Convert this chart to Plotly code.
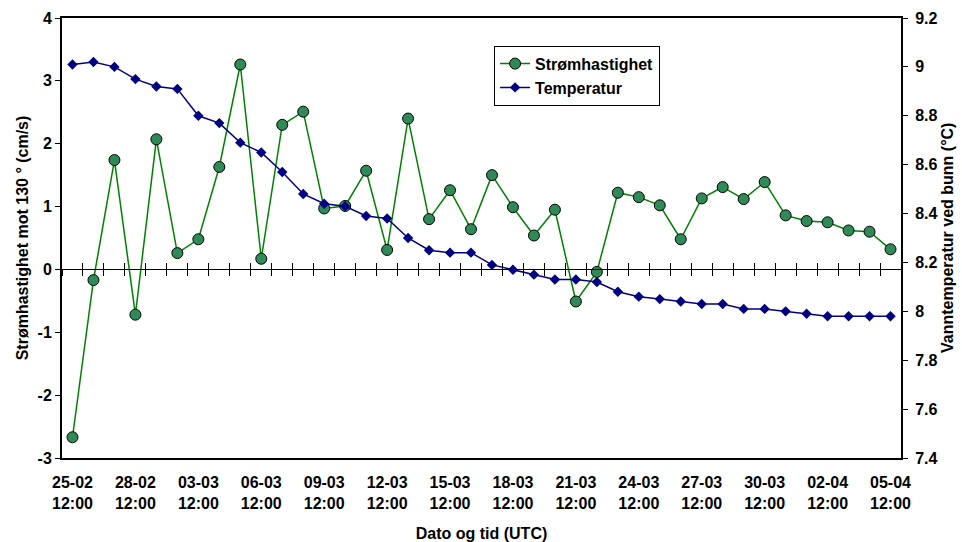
import pandas as pd
import plotly.graph_objects as go

dates = pd.date_range("2023-02-25 12:00", "2023-04-05 12:00", freq="D")

stromhastighet = [-2.67, -0.17, 1.74, -0.72, 2.07, 0.26, 0.48, 1.63, 3.26, 0.17,
                  2.30, 2.51, 0.97, 1.01, 1.57, 0.31, 2.40, 0.80, 1.26, 0.64,
                  1.50, 0.99, 0.54, 0.95, -0.51, -0.04, 1.22, 1.15, 1.02, 0.48,
                  1.13, 1.31, 1.12, 1.39, 0.86, 0.77, 0.75, 0.62, 0.60, 0.32]

temperatur = [9.01, 9.02, 9.00, 8.95, 8.92, 8.91, 8.80, 8.77, 8.69, 8.65,
              8.57, 8.48, 8.44, 8.43, 8.39, 8.38, 8.30, 8.25, 8.24, 8.24,
              8.19, 8.17, 8.15, 8.13, 8.13, 8.12, 8.08, 8.06, 8.05, 8.04,
              8.03, 8.03, 8.01, 8.01, 8.00, 7.99, 7.98, 7.98, 7.98, 7.98]

y_left_ticks = [-3, -2, -1, 0, 1, 2, 3, 4]
y_left_labels = ["-3", "-2", "-1", "0", "1", "2", "3", "4"]
y_right_ticks = [7.4, 7.6, 7.8, 8.0, 8.2, 8.4, 8.6, 8.8, 9.0, 9.2]
y_right_labels = ["7.4", "7.6", "7.8", "8", "8.2", "8.4", "8.6", "8.8", "9", "9.2"]

FONT = "Liberation Sans, Arial, sans-serif"
bold = dict(family=FONT, size=16, color="black", weight="bold")
DAY = 86400000

x_start = "2023-02-25 00:00"
x_end = "2023-04-06 00:00"

fig = go.Figure()
fig.add_trace(go.Scatter(
    x=dates, y=stromhastighet, name="Strømhastighet", mode="lines+markers",
    line=dict(color="#008000", width=1.5),
    marker=dict(symbol="circle", size=11, color="#2E8B57",
                line=dict(color="black", width=1)),
    xaxis="x", yaxis="y"))
# invisible helper traces so the auxiliary axes are drawn
for xa, ya in (("x2", "y"), ("x3", "y"), ("x", "y3")):
    fig.add_trace(go.Scatter(x=[dates[0]], y=[None], xaxis=xa, yaxis=ya,
                             mode="lines", showlegend=False, hoverinfo="skip"))
fig.add_trace(go.Scatter(
    x=dates, y=temperatur, name="Temperatur", mode="lines+markers",
    line=dict(color="#000080", width=1.5),
    marker=dict(symbol="diamond", size=8, color="#000080"),
    xaxis="x", yaxis="y2"))

fig.update_layout(
    width=962, height=542,
    margin=dict(l=62, r=61, t=18, b=84),
    paper_bgcolor="white", plot_bgcolor="white",
    font=bold,
    showlegend=True,
    legend=dict(x=0.515, y=0.937, xanchor="left", yanchor="top",
                bordercolor="black", borderwidth=1, bgcolor="white",
                font=bold, itemwidth=30, tracegroupgap=0),
    xaxis=dict(type="date", range=[x_start, x_end],
               tick0="2023-02-25 12:00", dtick=3 * DAY,
               tickformat="%d-%m<br>%H:%M", ticks="",
               ticklabelstandoff=9, automargin=False,
               showline=True, linecolor="black", linewidth=1.5, mirror=True,
               showgrid=False, zeroline=False, tickfont=bold,
               title=dict(text="Dato og tid (UTC)", font=bold, standoff=20)),
    xaxis2=dict(type="date", range=[x_start, x_end], overlaying="x",
                anchor="free", position=3 / 7,
                tick0="2023-02-25 00:00", dtick=DAY,
                ticks="outside", ticklen=6, tickcolor="black", tickwidth=1,
                showticklabels=False, showline=True, linecolor="black",
                linewidth=1, showgrid=False, zeroline=False),
    xaxis3=dict(type="date", range=[x_start, x_end], overlaying="x",
                anchor="free", position=3 / 7,
                tick0="2023-02-25 00:00", dtick=DAY,
                ticks="inside", ticklen=6, tickcolor="black", tickwidth=1,
                showticklabels=False, showline=False,
                showgrid=False, zeroline=False),
    yaxis=dict(range=[-3, 4], tickvals=y_left_ticks, ticktext=y_left_labels,
               ticks="outside", ticklen=5,
               tickcolor="black", showline=True, linecolor="black",
               linewidth=2, showgrid=False, zeroline=False, tickfont=bold,
               automargin=False,
               title=dict(text="Strømhastighet mot 130 ° (cm/s)", font=bold,
                          standoff=5)),
    # labels of the right axis, pushed out with invisible long ticks
    yaxis2=dict(range=[7.4, 9.2], tickvals=y_right_ticks,
                ticktext=y_right_labels,
                overlaying="y", side="right",
                ticks="outside", ticklen=10, tickcolor="rgba(0,0,0,0)",
                automargin=False, showline=False,
                showgrid=False, zeroline=False, tickfont=bold),
    # visible line and short ticks of the right axis
    yaxis3=dict(range=[7.4, 9.2], tickvals=y_right_ticks,
                overlaying="y", side="right",
                ticks="outside", ticklen=5, tickcolor="black",
                showticklabels=False, automargin=False,
                showline=True, linecolor="black", linewidth=2,
                showgrid=False, zeroline=False),
    annotations=[dict(text="Vanntemperatur ved bunn (°C)", font=bold,
                      textangle=-90, xref="paper", yref="paper",
                      x=1 + (947 - 901) / 839, y=0.5,
                      xanchor="center", yanchor="middle", showarrow=False)],
)

fig.write_html("out.html")
